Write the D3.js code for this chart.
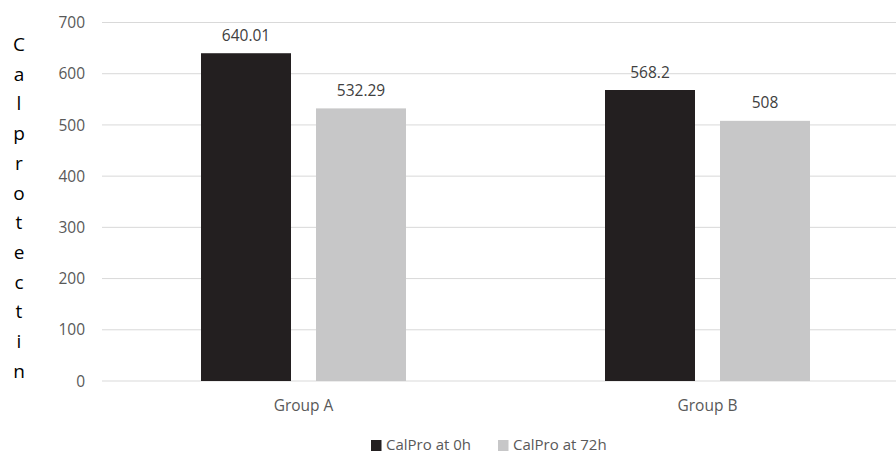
<!DOCTYPE html>
<html><head><meta charset="utf-8">
<script src="https://cdn.jsdelivr.net/npm/d3@7"></script>
<style>body{margin:0;background:#fff}svg{display:block}text{font-family:"Open Sans",sans-serif}</style>
</head><body><svg id="c" width="896" height="454"></svg>
<script>
const categories = ["Group A", "Group B"];
const seriesNames = ["CalPro at 0h", "CalPro at 72h"];
const values0h = [640.01, 568.2];
const values72h = [532.29, 508];
const labels0h = ["640.01", "568.2"];
const labels72h = ["532.29", "508"];
const yTicks = [0, 100, 200, 300, 400, 500, 600, 700];
const axisTitle = "Calprotectin";
const colors = ["#231f20", "#c7c7c8"];

const svg = d3.select("#c");
const x = d3.scaleBand().domain(categories).range([101.5, 909.5]).paddingInner(0).paddingOuter(0);
const y = d3.scaleLinear().domain([0, 700]).range([381, 22.5]);
const barW = 90, gap = 25;
const fs = 15.5;

svg.append("g").selectAll("line").data(yTicks).join("line")
  .attr("x1", 102).attr("x2", 896)
  .attr("y1", d => y(d)).attr("y2", d => y(d))
  .attr("stroke", "#d9d9d9").attr("stroke-width", 1);

svg.append("g").selectAll("text").data(yTicks).join("text")
  .attr("x", 85).attr("y", d => y(d)).attr("dy", "0.36em")
  .attr("text-anchor", "end").attr("font-size", fs).attr("fill", "#595959")
  .text(d => d);

const letters = axisTitle.split("");
svg.append("g").selectAll("text").data(letters).join("text")
  .attr("x", 19).attr("y", (d, i) => 51 + i * 29.7)
  .attr("text-anchor", "middle").attr("font-size", 19).attr("fill", "#000")
  .text(d => d);

const series = [
  {vals: values0h, labs: labels0h, off: -(gap/2 + barW), col: colors[0]},
  {vals: values72h, labs: labels72h, off: gap/2, col: colors[1]}
];
series.forEach(s => {
  const g = svg.append("g");
  g.selectAll("rect").data(categories).join("rect")
    .attr("x", (c) => x(c) + x.bandwidth()/2 + s.off)
    .attr("width", barW)
    .attr("y", (c, i) => y(s.vals[i]))
    .attr("height", (c, i) => y(0) - y(s.vals[i]))
    .attr("fill", s.col);
  g.selectAll("text").data(categories).join("text")
    .attr("x", (c) => x(c) + x.bandwidth()/2 + s.off + barW/2)
    .attr("y", (c, i) => y(s.vals[i]) - 12.5)
    .attr("text-anchor", "middle").attr("font-size", fs).attr("fill", "#404040")
    .text((c, i) => s.labs[i]);
});

svg.append("g").selectAll("text").data(categories).join("text")
  .attr("x", c => x(c) + x.bandwidth()/2).attr("y", 411)
  .attr("text-anchor", "middle").attr("font-size", fs).attr("fill", "#595959")
  .text(c => c);

const legX = [371, 498];
const lg = svg.append("g");
seriesNames.forEach((n, i) => {
  lg.append("rect").attr("x", legX[i]).attr("y", 440).attr("width", 10.5).attr("height", 11).attr("fill", colors[i]);
  lg.append("text").attr("x", legX[i] + 15).attr("y", 449.5).attr("font-size", 15).attr("fill", "#595959").text(n);
});
</script></body></html>
